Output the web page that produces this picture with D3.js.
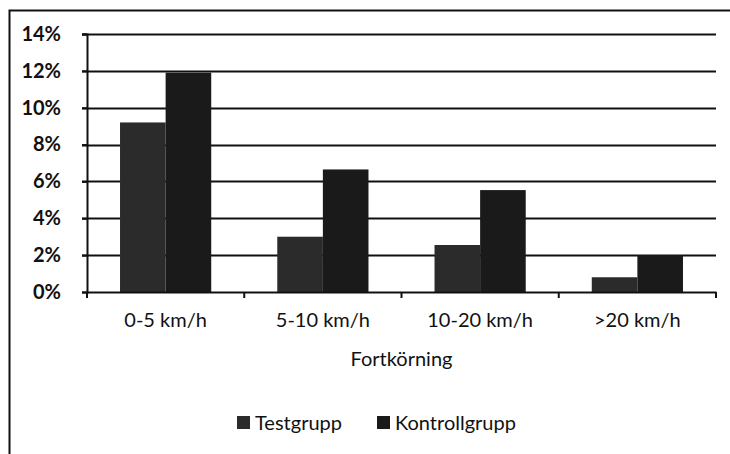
<!DOCTYPE html>
<html>
<head>
<meta charset="utf-8">
<script src="https://cdn.jsdelivr.net/npm/d3@7"></script>
<style>
  body { margin: 0; background: #fff; }
  svg { display: block; }
  svg text { font-family: Lato, "Open Sans", sans-serif; }
</style>
</head>
<body>
<svg id="chart" width="730" height="454"></svg>
<script>
const categories = ['0-5 km/h', '5-10 km/h', '10-20 km/h', '>20 km/h'];
const seriesNames = ['Testgrupp', 'Kontrollgrupp'];
const testgrupp = [0.092, 0.030, 0.0255, 0.008];
const kontrollgrupp = [0.119, 0.0665, 0.0553, 0.020];
const yTicks = [0, 0.02, 0.04, 0.06, 0.08, 0.10, 0.12, 0.14];
const xTitle = 'Fortkörning';

const COLORS = ['#2b2b2b', '#1a1a1a'];
const plot = { left: 87, right: 716, top: 34, bottom: 292 };

const svg = d3.select('#chart');

// frame (scanned page only shows left and top edges)
svg.append('path')
    .attr('d', 'M9.5,454 V10.5 H730')
    .attr('fill', 'none')
    .attr('stroke', '#111')
    .attr('stroke-width', 2);

const x = d3.scaleBand()
    .domain(categories)
    .range([plot.left, plot.right])
    .paddingInner(0)
    .paddingOuter(0);

const y = d3.scaleLinear()
    .domain([0, 0.14])
    .range([plot.bottom, plot.top]);

const groupWidth = x.bandwidth() * 0.58;
const xs = d3.scaleBand()
    .domain(seriesNames)
    .range([0, groupWidth])
    .padding(0);

// gridlines
svg.append('g')
    .selectAll('line')
    .data(yTicks.filter(t => t > 0))
    .join('line')
    .attr('x1', plot.left - 5)
    .attr('x2', plot.right)
    .attr('y1', d => Math.round(y(d)) + 0.5)
    .attr('y2', d => Math.round(y(d)) + 0.5)
    .attr('stroke', '#111')
    .attr('stroke-width', 2);

// y axis
const yAxis = svg.append('g')
    .attr('transform', `translate(${plot.left},0)`)
    .call(d3.axisLeft(y).tickValues(yTicks).tickFormat(d3.format('.0%')).tickSize(5).tickPadding(21));
yAxis.attr('font-family', null).attr('font-size', null);
yAxis.select('.domain').attr('stroke', '#111').attr('stroke-width', 2);
yAxis.selectAll('.tick line').attr('stroke', '#111').attr('stroke-width', 2);
yAxis.selectAll('.tick text')
    .style('font-size', '20px')
    .style('font-weight', 700)
    .attr('fill', '#111');

// bars
const rows = categories.map((c, i) => ({ cat: c, values: [testgrupp[i], kontrollgrupp[i]] }));
const groups = svg.append('g')
    .selectAll('g')
    .data(rows)
    .join('g')
    .attr('transform', d => `translate(${x(d.cat) + (x.bandwidth() - groupWidth) / 2},0)`);

groups.selectAll('rect')
    .data(d => d.values.map((v, j) => ({ name: seriesNames[j], value: v })))
    .join('rect')
    .attr('x', d => xs(d.name))
    .attr('width', xs.bandwidth())
    .attr('y', d => y(d.value))
    .attr('height', d => y(0) - y(d.value))
    .attr('fill', (d, j) => COLORS[j]);

// x axis
const xAxis = svg.append('g')
    .attr('transform', `translate(0,${plot.bottom})`)
    .call(d3.axisBottom(x).tickSize(0).tickPadding(21));
xAxis.attr('font-family', null).attr('font-size', null);
xAxis.select('.domain').attr('stroke', '#111').attr('stroke-width', 2);
xAxis.selectAll('.tick text')
    .style('font-size', '20px')
    .attr('fill', '#111');

// category separators
svg.append('g')
    .selectAll('line')
    .data(d3.range(categories.length + 1))
    .join('line')
    .attr('x1', i => plot.left + i * x.step())
    .attr('x2', i => plot.left + i * x.step())
    .attr('y1', plot.bottom)
    .attr('y2', plot.bottom + 6)
    .attr('stroke', '#111')
    .attr('stroke-width', 2);

svg.append('text')
    .attr('x', (plot.left + plot.right) / 2)
    .attr('y', 366)
    .attr('text-anchor', 'middle')
    .style('font-size', '20px')
    .attr('fill', '#111')
    .text(xTitle);

// legend
const legend = svg.append('g')
    .attr('transform', 'translate(237,423)');
const legendX = [0, 140];
seriesNames.forEach((name, i) => {
    const g = legend.append('g').attr('transform', `translate(${legendX[i]},0)`);
    g.append('rect')
        .attr('x', 0)
        .attr('y', -7)
        .attr('width', 13)
        .attr('height', 13)
        .attr('fill', COLORS[i]);
    g.append('text')
        .attr('x', 18)
        .attr('y', 0)
        .attr('dy', '0.35em')
        .style('font-size', '20px')
        .attr('fill', '#111')
        .text(name);
});
</script>
</body>
</html>
